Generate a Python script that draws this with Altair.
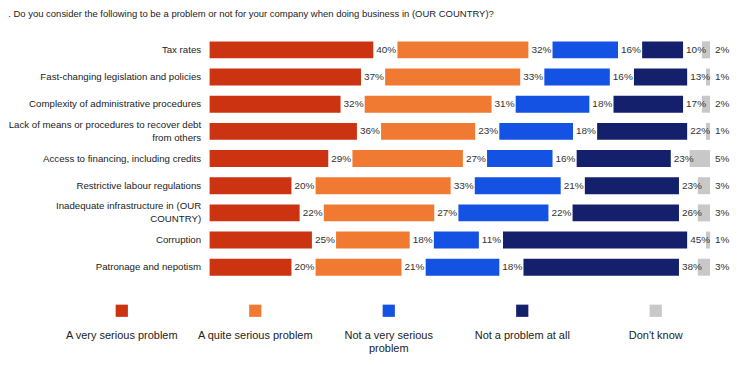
import altair as alt
import pandas as pd

categories = [
    "Tax rates",
    "Fast-changing legislation and policies",
    "Complexity of administrative procedures",
    "Lack of means or procedures to recover debt\nfrom others",
    "Access to financing, including credits",
    "Restrictive labour regulations",
    "Inadequate infrastructure in (OUR\nCOUNTRY)",
    "Corruption",
    "Patronage and nepotism",
]
series = [
    "A very serious problem",
    "A quite serious problem",
    "Not a very serious problem",
    "Not a problem at all",
    "Don't know",
]
very_serious = [40, 37, 32, 36, 29, 20, 22, 25, 20]
quite_serious = [32, 33, 31, 23, 27, 33, 27, 18, 21]
not_very_serious = [16, 16, 18, 18, 16, 21, 22, 11, 18]
not_at_all = [10, 13, 17, 22, 23, 23, 26, 45, 38]
dont_know = [2, 1, 2, 1, 5, 3, 3, 1, 3]

colors = ["#CC3311", "#F07A32", "#1352E2", "#14206C", "#C8C8C8"]
FONT = "Liberation Sans, Arial, sans-serif"
GAP = 5.9      # gap between segments (in % units) for the labels
END = 122.3    # right edge of the "Don't know" column (in % units)
XMAX = 124

values = [very_serious, quite_serious, not_very_serious, not_at_all, dont_know]
rows = []
for i, cat in enumerate(categories):
    cum = 0
    for k, s in enumerate(series):
        v = values[k][i]
        if k < 4:
            start = cum + k * GAP
            end = start + v
            cum += v
        else:
            end = END
            start = END - v
        rows.append({"category": cat, "series": s, "value": v,
                     "start": start, "end": end, "label": f"{v}%",
                     "order": k})
df = pd.DataFrame(rows)
leg = pd.DataFrame({"series": series,
                    "text": ["A very serious problem", "A quite serious problem",
                             "Not a very serious\nproblem", "Not a problem at all",
                             "Don't know"]})

y_enc = alt.Y(
    "category:N", sort=categories, title=None,
    scale=alt.Scale(paddingInner=0.376, paddingOuter=0.188),
    axis=alt.Axis(domain=False, ticks=False, labelFont=FONT, labelFontSize=9.7,
                  labelColor="#222", labelPadding=9,
                  labelLimit=0,
                  labelExpr="split(datum.label, '\\n')", labelLineHeight=13,
                  labelOffset={"expr": "indexof(datum.label, '\\n') >= 0 ? -6.5 : 0"}),
)
x_scale = alt.Scale(domain=[0, XMAX], nice=False, zero=True)
color = alt.Color("series:N", scale=alt.Scale(domain=series, range=colors), legend=None)

bars = alt.Chart(df).mark_bar().encode(
    x=alt.X("start:Q", scale=x_scale, axis=None),
    x2="end:Q",
    y=y_enc,
    color=color,
)
labels_a = alt.Chart(df).transform_filter("datum.order < 4").mark_text(
    align="left", baseline="middle", font=FONT, fontSize=10, color="#333", dx=3).encode(
    x=alt.X("end:Q", scale=x_scale, axis=None),
    y=alt.Y("category:N", sort=categories),
    text="label:N",
)
labels_b = alt.Chart(df).transform_filter("datum.order == 4").mark_text(
    align="left", baseline="middle", font=FONT, fontSize=10, color="#333", dx=5).encode(
    x=alt.X("end:Q", scale=x_scale, axis=None),
    y=alt.Y("category:N", sort=categories),
    text="label:N",
)

leg_x = alt.X("series:N", sort=series, scale=alt.Scale(type="point", domain=series,
              range=[-88, 447], padding=0), axis=None)
leg_sq = alt.Chart(leg).mark_square(size=150, opacity=1).encode(
    x=leg_x, y=alt.value(275), color=color)
leg_tx = alt.Chart(leg).mark_text(align="center", baseline="top", font=FONT,
                                  fontSize=11, color="#222", lineBreak="\n",
                                  lineHeight=13).encode(
    x=leg_x, y=alt.value(294), text="text:N")

main = alt.layer(bars, labels_a, labels_b)
legend = alt.layer(leg_sq, leg_tx)

chart = alt.layer(main, legend).resolve_scale(x="independent").properties(
    width=XMAX * 4.1, height=245, padding={"left": 0, "top": 0, "right": 0, "bottom": 0},
    title=alt.Title(". Do you consider the following to be a problem or not for your company when doing business in (OUR COUNTRY)?",
                    anchor="start", frame="bounds", font=FONT, fontSize=9.5,
                    fontWeight="normal", color="#222", offset=18),
).configure_view(stroke=None)

chart.save("out.html", embed_options={"renderer": "svg", "actions": False})
